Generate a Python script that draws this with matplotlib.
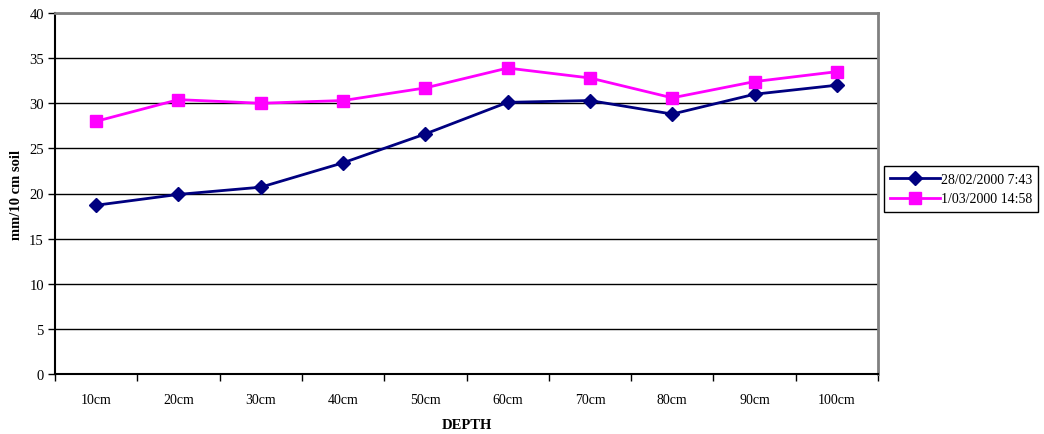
import matplotlib
matplotlib.use("Agg")
import matplotlib.pyplot as plt
import numpy as np

categories = ["10cm", "20cm", "30cm", "40cm", "50cm", "60cm", "70cm", "80cm", "90cm", "100cm"]
series1_label = "28/02/2000 7:43"
series1 = [18.7, 19.9, 20.7, 23.4, 26.6, 30.1, 30.3, 28.8, 31.0, 32.0]
series2_label = "1/03/2000 14:58"
series2 = [28.0, 30.4, 30.0, 30.3, 31.7, 33.9, 32.8, 30.6, 32.4, 33.5]
yticks = [0, 5, 10, 15, 20, 25, 30, 35, 40]

plt.rcParams['font.family'] = ['Liberation Serif', 'DejaVu Serif']

fig = plt.figure(figsize=(10.44, 4.35), dpi=100)
ax = fig.add_axes([55/1044, 1-375/435, (878-55)/1044, (375-14)/435])

x = np.arange(len(categories))
ax.plot(x, series1, color="#000080", marker="D", markersize=7, linewidth=2, label=series1_label)
ax.plot(x, series2, color="#FF00FF", marker="s", markersize=8, linewidth=2, label=series2_label)

ax.set_xlim(-0.5, len(categories) - 0.5)
ax.set_ylim(0, 40)
ax.set_yticks(yticks)
ax.yaxis.grid(True, color="black", linewidth=1)
ax.set_axisbelow(True)

ax.set_xticks(x)
ax.set_xticklabels(categories, fontsize=10)
ax.tick_params(axis="x", which="major", length=0, pad=14)
ax.set_xticks(np.arange(-0.5, len(categories)), minor=True)
ax.tick_params(axis="x", which="minor", length=5, width=1, direction="out")
ax.tick_params(axis="y", length=5, width=1, direction="out", labelsize=10.5, pad=3)

for s in ["left", "bottom"]:
    ax.spines[s].set_color("black")
    ax.spines[s].set_linewidth(1.5)
for s in ["top", "right"]:
    ax.spines[s].set_color("#808080")
    ax.spines[s].set_linewidth(2)

ax.set_ylabel("mm/10 cm soil", fontsize=10.5, fontweight="bold")
ax.set_xlabel("DEPTH", fontsize=10.5, fontweight="bold", labelpad=8)
ax.yaxis.set_label_coords(-32/823, 0.5)

leg = fig.legend(loc="center left", bbox_to_anchor=(884/1044, 1-190/435), fontsize=10,
                 frameon=True, fancybox=False, edgecolor="black", framealpha=1,
                 handlelength=3.6, handletextpad=0.05, borderpad=0.45, labelspacing=0.5,
                 borderaxespad=0)
leg.get_frame().set_linewidth(1)

fig.savefig("out.png", dpi=100)
